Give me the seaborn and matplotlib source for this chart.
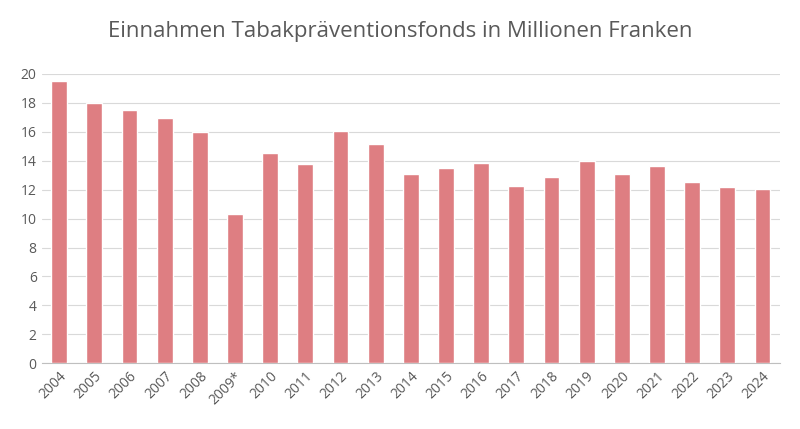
import matplotlib
matplotlib.use("Agg")
import matplotlib.pyplot as plt
import seaborn as sns
import pandas as pd

# Einnahmen in Millionen Franken
years = ["2004", "2005", "2006", "2007", "2008", "2009*", "2010", "2011", "2012", "2013",
         "2014", "2015", "2016", "2017", "2018", "2019", "2020", "2021", "2022", "2023", "2024"]
values = [19.5, 18.0, 17.5, 16.95, 15.95, 10.3, 14.55, 13.75, 16.05, 15.15,
          13.05, 13.5, 13.85, 12.25, 12.85, 14.0, 13.05, 13.65, 12.5, 12.15, 12.05]

df = pd.DataFrame({"Jahr": years, "Wert": values})

sns.set_style("white")
plt.rcParams['font.family'] = ['Open Sans', 'DejaVu Sans']

fig, ax = plt.subplots(figsize=(8, 4.29), dpi=100)
fig.subplots_adjust(left=0.052, right=0.975, top=0.828, bottom=0.153)

sns.barplot(data=df, x="Jahr", y="Wert", color="#EE6E73", width=0.45, ax=ax, zorder=3)

ax.set_ylim(0, 20)
ax.set_yticks(range(0, 21, 2))
ax.yaxis.grid(True, color="#D9D9D9", linewidth=0.8, zorder=0)
ax.set_xlabel("")
ax.set_ylabel("")
for s in ["top", "right", "left"]:
    ax.spines[s].set_visible(False)
ax.spines["bottom"].set_color("#BFBFBF")
ax.tick_params(axis="both", length=0, labelsize=10, labelcolor="#595959")
plt.setp(ax.get_xticklabels(), rotation=45, ha="right", rotation_mode="anchor")
ax.tick_params(axis="x", pad=4)

fig.suptitle("Einnahmen Tabakpräventionsfonds in Millionen Franken",
             fontsize=16, color="#595959", y=0.95)

fig.savefig("out.png", dpi=100)
